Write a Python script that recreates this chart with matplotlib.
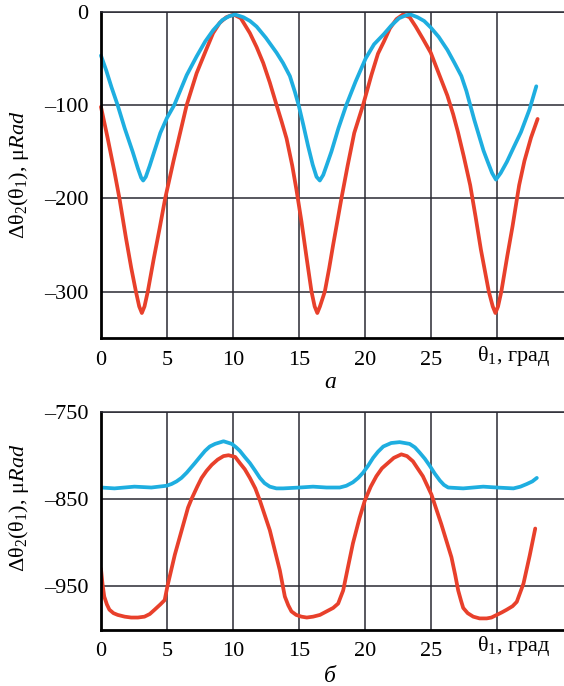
import matplotlib
matplotlib.use("Agg")
import matplotlib.pyplot as plt

# Panel a: delta theta2 vs theta1
a_red_x = [0, 0.5, 1.0, 1.4, 1.9, 2.3, 2.65, 2.9, 3.1, 3.3, 3.55, 4.0, 4.45, 4.87, 5.5, 6.0,
           6.5, 7.25, 8.0, 8.5, 9.0, 9.5, 10.05, 10.6, 11.29, 11.8, 12.3, 12.8, 13.31, 13.7,
           14.07, 14.5, 14.82, 15.2, 15.6, 15.96, 16.2, 16.4, 16.6, 16.97, 17.3, 17.6, 18.23,
           18.7, 19.2, 19.87, 20.5, 21.0, 21.45, 21.9, 22.4, 22.9, 23.4, 23.86, 24.4, 25.0,
           25.6, 26.26, 26.7, 27.06, 27.5, 27.99, 28.4, 28.8, 29.4, 29.7, 29.9, 30.1, 30.35,
           30.8, 31.2, 31.7, 32.1, 32.6, 33.1]
a_red_y = [-102, -135, -170, -200, -243, -275, -300, -316, -323, -316, -300, -265, -232, -200,
           -160, -130, -100, -66, -40, -23, -12, -6, -3, -7, -23, -38, -55, -76, -100, -118,
           -136, -165, -191, -225, -265, -300, -316, -323, -316, -300, -275, -250, -200,
           -165, -130, -100, -68, -45, -32, -18, -8, -3, -6, -16, -29, -44,
           -66, -90, -110, -129, -155, -186, -220, -255, -300, -316, -323, -316, -300,
           -262, -230, -186, -160, -135, -115]

a_blue_x = [0, 0.4, 0.8, 1.26, 1.8, 2.4, 2.8, 3.05, 3.2, 3.4, 3.7, 4.04, 4.5, 5.0, 5.56, 6.5,
            7.25, 7.9, 8.5, 9.2, 9.7, 10.15, 10.8, 11.3, 11.8, 12.5, 13.31, 13.8, 14.32, 14.7,
            15.0, 15.35, 15.7, 16.05, 16.34, 16.59, 16.85, 17.1, 17.47, 18.0, 18.6, 19.3,
            20.07, 20.7, 21.45, 22.0, 22.6, 23.1, 23.46, 24.0, 24.5, 25.0, 25.6, 26.26, 26.8,
            27.32, 27.7, 27.99, 28.3, 28.66, 29.0, 29.32, 29.65, 29.94, 30.3, 30.77, 31.3,
            31.84, 32.48, 33.0]
a_blue_y = [-47, -63, -81, -100, -125, -150, -168, -178, -181, -177, -165, -150, -130, -114,
            -100, -68, -48, -32, -20, -9, -5, -3, -6, -10, -16, -28, -44, -55, -69, -86,
            -101, -122, -144, -164, -177, -181, -175, -165, -150, -125, -100, -75,
            -50, -35, -24, -15, -7, -4, -3, -6, -10, -17, -27, -41, -55,
            -69, -85, -100, -116, -133, -149, -161, -173, -180, -173, -161, -145,
            -129, -105, -80]

# Panel b
b_red_x = [0, 0.12, 0.25, 0.45, 0.64, 0.95, 1.27, 1.8, 2.29, 2.8, 3.3, 3.7, 4.07, 4.5, 4.83,
           5.04, 5.6, 6.1, 6.6, 6.87, 7.3, 7.63, 8.0, 8.4, 8.85, 9.29, 9.67, 10.18, 10.53,
           10.9, 11.29, 11.7, 12.05, 12.8, 13.56, 13.94, 14.2, 14.44, 14.8, 15.2, 15.6, 16.08,
           16.6, 17.1, 17.6, 17.98, 18.36, 18.7, 19.1, 19.6, 20.0, 20.45, 20.88, 21.3, 21.6,
           22.2, 22.77, 23.2, 23.65, 24.0, 24.4, 25.05, 25.8, 26.57, 26.85, 27.08, 27.3,
           27.46, 27.8, 28.22, 28.7, 29.24, 29.6, 30.0, 30.4, 30.76, 31.2, 31.52, 32.03,
           32.5, 32.92]
b_red_y = [-930, -948, -962, -971, -977, -981, -983, -985, -986, -986, -985, -982, -977, -971,
           -966, -950, -914, -887, -860, -850, -836, -826, -818, -811, -805, -801, -800,
           -802, -809, -816, -826, -838, -852, -886, -932, -962, -972, -979, -983, -985,
           -986, -985, -983, -979, -975, -970, -955, -930, -901, -872, -852, -836, -824,
           -815, -811, -803, -799, -801, -807, -815, -824, -845, -879, -917, -937, -955,
           -967, -975, -981, -985, -987, -987, -986, -983, -980, -977, -973, -968, -947,
           -915, -884]

b_blue_x = [0, 1.02, 2.54, 3.82, 4.96, 5.35, 5.73, 6.1, 6.5, 7.12, 7.5, 7.89, 8.25, 8.65,
            9.29, 9.92, 10.25, 10.53, 10.9, 11.29, 11.7, 12.05, 12.4, 12.8, 13.3, 13.81, 15.07,
            16.08, 17.1, 18.1, 18.6, 19.1, 19.5, 19.87, 20.25, 20.63, 21.0, 21.4, 22.0, 22.64,
            23.4, 23.8, 24.16, 24.55, 24.92, 25.3, 25.69, 26.0, 26.32, 27.46, 28.98, 30.0,
            31.27, 31.8, 32.28, 32.7, 33.04]
b_blue_y = [-837, -838, -836, -837, -835, -833, -830, -826, -820, -809, -802, -795, -790,
            -787, -784, -787, -791, -795, -802, -809, -818, -826, -832, -836, -838, -838,
            -837, -836, -837, -837, -835, -831, -826, -820, -812, -803, -796, -790, -786,
            -785, -787, -791, -797, -804, -812, -821, -829, -834, -837, -838, -836, -837,
            -838, -836, -833, -830, -826]

x_ticks = [0, 5, 10, 15, 20, 25, 30]
x_tick_labels = ["0", "5", "10", "15", "20", "25", ""]
a_y_ticks = [0, -100, -200, -300]
b_y_ticks = [-750, -850, -950]

RED = "#e8402b"
BLUE = "#1eaee0"
FONT = "Liberation Serif"

plt.rcParams["font.family"] = [FONT, "DejaVu Serif"]
plt.rcParams["font.size"] = 16
plt.rcParams["mathtext.fontset"] = "custom"
plt.rcParams["mathtext.rm"] = FONT
plt.rcParams["mathtext.it"] = FONT + ":italic"

fig = plt.figure(figsize=(5.64, 6.86), dpi=100)
ax_a = fig.add_axes([0.179, 0.507, 0.821, 0.476])
ax_b = fig.add_axes([0.179, 0.082, 0.821, 0.318])


def style_axes(ax, ylim, yticks):
    ax.set_xlim(0, 35.1)
    ax.set_ylim(*ylim)
    ax.set_xticks(x_ticks)
    ax.set_xticklabels(x_tick_labels)
    ax.set_yticks(yticks)
    ax.set_yticklabels([str(v).replace("-", "\u2013") for v in yticks])
    ax.tick_params(length=0, pad=9)
    ax.grid(True, color="#2a2a33", linewidth=1.1)
    ax.set_axisbelow(True)
    ax.spines["right"].set_visible(False)
    ax.spines["top"].set_color("#2a2a33")
    ax.spines["top"].set_linewidth(1.1)
    for side in ("left", "bottom"):
        ax.spines[side].set_linewidth(2.0)
        ax.spines[side].set_color("black")
    # axis name sits in place of the "30" tick label
    ax.text(28.5, ylim[0] - (ylim[1] - ylim[0]) * 0.018, "\u03b8$_1$, град",
            ha="left", va="top", fontsize=16)
    ax.set_ylabel("\u0394\u03b8$_2$(\u03b8$_1$), \u03bc$\\mathit{Rad}$", fontsize=16)


style_axes(ax_a, (-350, 0), a_y_ticks)
style_axes(ax_b, (-1000, -750), b_y_ticks)

ax_a.plot(a_red_x, a_red_y, color=RED, linewidth=2.7, solid_joinstyle="round",
          solid_capstyle="round", clip_on=False)
ax_a.plot(a_blue_x, a_blue_y, color=BLUE, linewidth=2.7, solid_joinstyle="round",
          solid_capstyle="round", clip_on=False)
ax_b.plot(b_red_x, b_red_y, color=RED, linewidth=2.7, solid_joinstyle="round",
          solid_capstyle="round")
ax_b.plot(b_blue_x, b_blue_y, color=BLUE, linewidth=2.7, solid_joinstyle="round",
          solid_capstyle="round")

ax_a.yaxis.set_label_coords(-0.15, 0.5)
ax_b.yaxis.set_label_coords(-0.15, 0.56)

fig.text(330 / 564, 1 - 383 / 686, "а", style="italic", ha="center", va="center", fontsize=17)
fig.text(330 / 564, 1 - 676 / 686, "б", style="italic", ha="center", va="center", fontsize=17)

fig.savefig("out.png", dpi=100)
